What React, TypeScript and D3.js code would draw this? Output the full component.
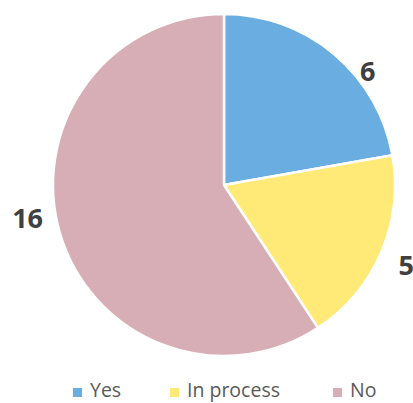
import React from "react";
import * as d3 from "d3";

const categories = ["Yes", "In process", "No"];
const values = [6, 5, 16];
const colors = ["#6aade0", "#ffe977", "#d8aeb6"];

// layout for data labels (angle in degrees from 12 o'clock, radius in px)
const labelPlacement = [
  { angle: 51.4, r: 184 },
  { angle: 113.7, r: 199 },
  { angle: 260.7, r: 199 },
];
const legendX = [73, 170, 333];

export default function App() {
  const W = 413, H = 403;
  const cx = 224, cy = 185, R = 171;
  const pie = d3.pie<number>().sort(null).value((d) => d)(values);
  const arc = d3.arc<d3.PieArcDatum<number>>().innerRadius(0).outerRadius(R);
  return (
    <svg width={W} height={H} style={{ position: "absolute", left: 0, top: 0 }}>
      <rect width={W} height={H} fill="#ffffff" />
      <g transform={`translate(${cx},${cy})`}>
        {pie.map((p, i) => (
          <path key={i} d={arc(p) || ""} fill={colors[i]} stroke="#ffffff" strokeWidth={2.5} strokeLinejoin="round" />
        ))}
        {pie.map((p, i) => {
          const a = (labelPlacement[i].angle * Math.PI) / 180;
          const r = labelPlacement[i].r;
          return (
            <text
              key={"l" + i}
              x={r * Math.sin(a)}
              y={-r * Math.cos(a)}
              textAnchor="middle"
              dominantBaseline="central"
              fontFamily="'Open Sans', sans-serif"
              fontWeight="bold"
              fontSize={27}
              fill="#404040"
            >
              {p.data}
            </text>
          );
        })}
      </g>
      {categories.map((c, i) => (
        <g key={"lg" + i}>
          <rect x={legendX[i]} y={388} width={9} height={9} fill={colors[i]} />
          <text
            x={legendX[i] + 17}
            y={397}
            fontFamily="'Open Sans', sans-serif"
            fontSize={19.5}
            fill="#595959"
          >
            {c}
          </text>
        </g>
      ))}
    </svg>
  );
}
